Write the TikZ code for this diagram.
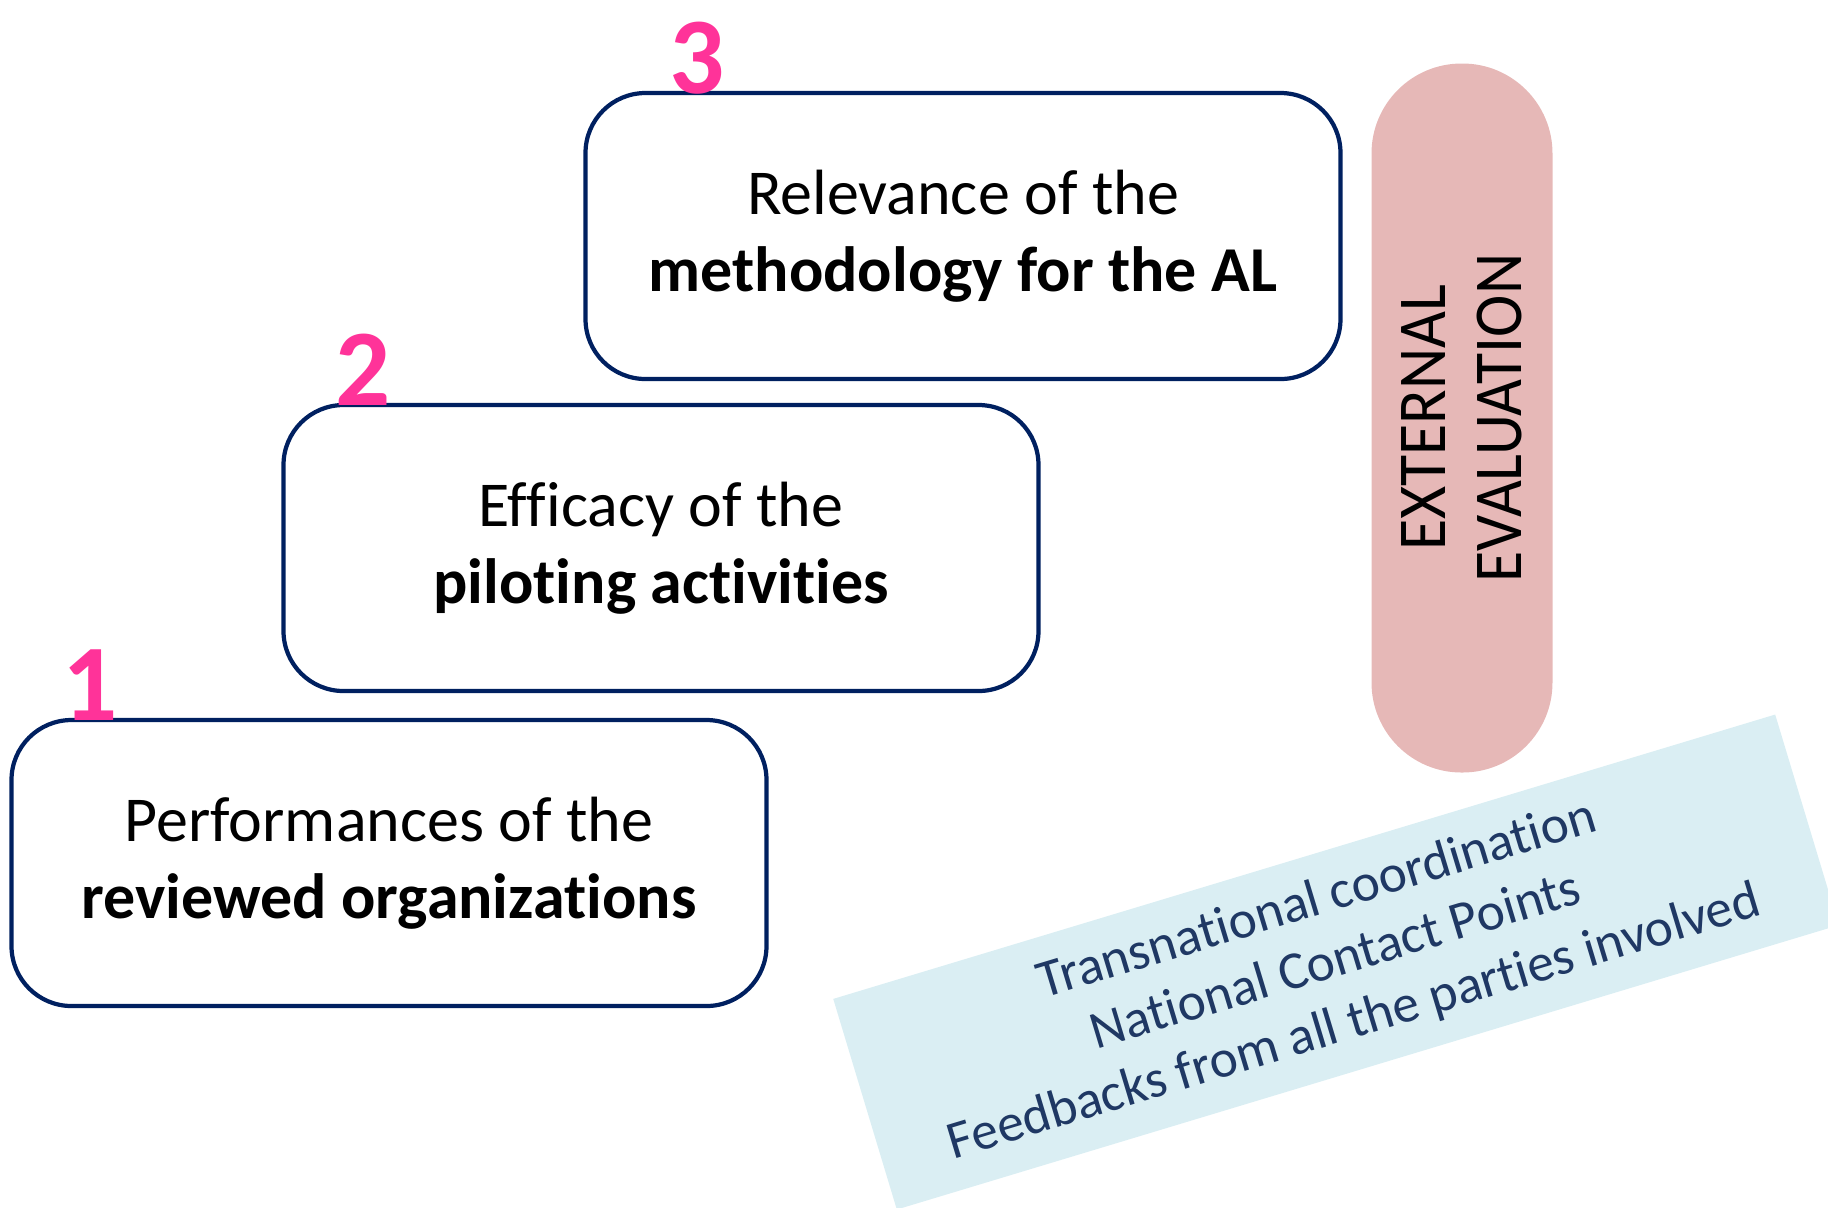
\documentclass[tikz,border=0pt]{standalone}
\usepackage{fontspec}
\setmainfont[Ligatures=NoCommon]{Carlito}
\newfontfamily\condfont[FakeStretch=0.93]{Carlito}
\usetikzlibrary{positioning,calc}
\definecolor{navy}{HTML}{002060}
\definecolor{numpink}{HTML}{FF3399}
\definecolor{pillred}{HTML}{E6B8B7}
\definecolor{noteblue}{HTML}{DAEEF3}
\definecolor{notetext}{HTML}{1F3864}

\begin{document}
\begin{tikzpicture}[x=0.1mm, y=-0.1mm,
    stage/.style={draw=navy, line width=1.2pt, rounded corners=6mm,
        minimum width=75.5mm, minimum height=28.6mm, align=center,
        font=\fontsize{18.2}{22}\selectfont},
    num/.style={text=numpink, anchor=base, inner sep=0pt,
        font=\fontsize{31}{33}\selectfont\bfseries},
    pill/.style={fill=pillred, rounded corners=9mm, rotate=90,
        minimum width=70.9mm, minimum height=18.1mm, align=center,
        font=\condfont\fontsize{19.5}{21.5}\selectfont},
    note/.style={fill=noteblue, rotate=16.8, minimum width=98.4mm,
        minimum height=22mm, align=center, text=notetext,
        font=\fontsize{15.2}{18.2}\selectfont}]
\useasboundingbox (0,0) rectangle (1828,1207);
\clip (0,0) rectangle (1828,1207);

\node[stage] (b1) at (389,863) {Performances of the\\\textbf{reviewed organizations}};
\node[stage] (b2) at (661,548) {Efficacy of the\\\textbf{piloting activities}};
\node[stage] (b3) at (963,236) {Relevance of the\\\textbf{methodology for the AL}};

\node[num] (n1) at ([xshift=8.1mm, yshift=-0.3mm]b1.north west) {1};
\node[num] (n2) at ([xshift=8.2mm, yshift=-0.3mm]b2.north west) {2};
\node[num] (n3) at ([xshift=11.4mm, yshift=-0.3mm]b3.north west) {3};

\node[pill] (ext) at (1462,418) {EXTERNAL\\EVALUATION};

\node[note] (fb) at (1336,962) {Transnational coordination\\National Contact Points\\Feedbacks from all the parties involved};
\end{tikzpicture}
\end{document}
